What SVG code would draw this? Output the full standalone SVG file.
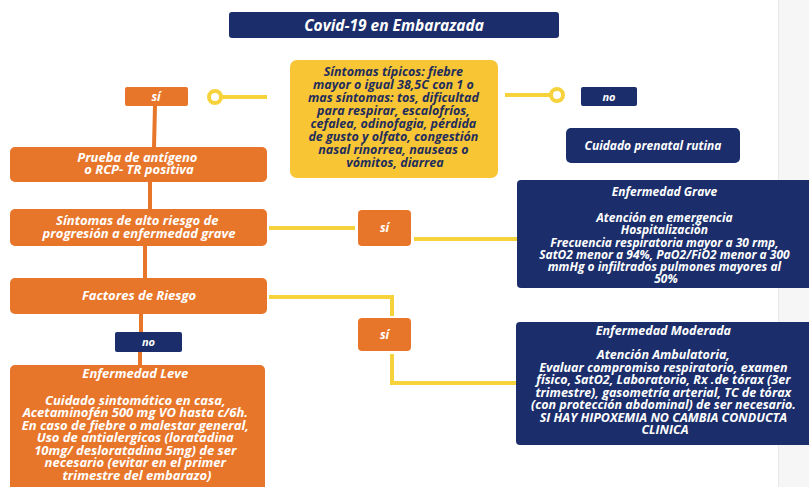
<svg xmlns="http://www.w3.org/2000/svg" width="809" height="487" viewBox="0 0 809 487">
<style>
  .t{font-family:"Open Sans",Lato,"Liberation Sans",sans-serif;font-weight:bold;font-style:italic;text-anchor:middle}
  .w{fill:#ffffff}
  .d{fill:#1f2d5c}
  .or{fill:#e8762a}
  .nv{fill:#1b2e6b}
  .yl{fill:#f8c534}
  .cy{fill:none;stroke:#f6d33c;stroke-width:4}
  .co{fill:none;stroke:#e8762a;stroke-width:4}
</style>
<rect x="0" y="0" width="809" height="487" fill="#ffffff"/>
<rect x="779" y="0" width="30" height="487" fill="#f6f6f6"/>
<line x1="778.5" y1="0" x2="778.5" y2="487" stroke="#e8e8e8" stroke-width="1"/>

<g id="connectors">
  <line class="co" x1="155" y1="106" x2="154" y2="147"/>
  <line class="co" x1="150" y1="182" x2="150" y2="209"/>
  <line class="co" x1="145" y1="246" x2="145" y2="278"/>
  <line class="co" x1="141" y1="314" x2="141" y2="332"/>
  <line class="co" x1="140" y1="352" x2="140" y2="365"/>
  <line class="cy" x1="221" y1="97" x2="267" y2="97"/>
  <circle cx="215" cy="97" r="6" fill="#ffffff" stroke="#f6d33c" stroke-width="4"/>
  <line class="cy" x1="505" y1="95" x2="551" y2="95"/>
  <circle cx="557" cy="95" r="6" fill="#ffffff" stroke="#f6d33c" stroke-width="4"/>
  <line class="cy" x1="269" y1="228" x2="355" y2="228"/>
  <line class="cy" x1="414" y1="239" x2="517" y2="239"/>
  <polyline class="cy" points="269,297 392,297 392,316"/>
  <polyline class="cy" points="392,354 392,383 517,383"/>
</g>

<g id="title">
  <rect class="nv" x="229" y="12" width="330" height="26" rx="3"/>
  <text class="t w" x="394" y="30.5" font-size="15.5">Covid-19 en Embarazada</text>
</g>

<g id="sintomas-tipicos">
  <rect class="yl" x="290" y="60" width="208" height="118" rx="7"/>
  <text class="t d" font-size="12.5">
    <tspan x="395" y="76">Síntomas típicos: fiebre</tspan>
    <tspan x="395" y="89">mayor o igual 38,5C con 1 o</tspan>
    <tspan x="395" y="102">mas síntomas: tos, dificultad</tspan>
    <tspan x="395" y="115">para respirar, escalofríos,</tspan>
    <tspan x="395" y="128">cefalea, odinofagia, pérdida</tspan>
    <tspan x="395" y="141">de gusto y olfato, congestión</tspan>
    <tspan x="395" y="154">nasal rinorrea, nauseas o</tspan>
    <tspan x="395" y="167">vómitos, diarrea</tspan>
  </text>
</g>

<g id="si-1">
  <rect class="or" x="125" y="87" width="63" height="19" rx="2"/>
  <text class="t w" x="156" y="101" font-size="12">sí</text>
</g>

<g id="no-1">
  <rect class="nv" x="581" y="87" width="56" height="19" rx="2"/>
  <text class="t w" x="609" y="100.5" font-size="11">no</text>
</g>

<g id="cuidado-prenatal">
  <rect class="nv" x="566" y="128" width="174" height="35" rx="5"/>
  <text class="t w" x="653" y="149.5" font-size="12">Cuidado prenatal rutina</text>
</g>

<g id="prueba">
  <rect class="or" x="10" y="147" width="257" height="35" rx="5"/>
  <text class="t w" font-size="13">
    <tspan x="139" y="161.5">Prueba de antígeno</tspan>
    <tspan x="139" y="174">o RCP- TR positiva</tspan>
  </text>
</g>

<g id="alto-riesgo">
  <rect class="or" x="10" y="209" width="257" height="37" rx="5"/>
  <text class="t w" font-size="13">
    <tspan x="139" y="224.5">Síntomas de alto riesgo de</tspan>
    <tspan x="139" y="237.5">progresión a enfermedad grave</tspan>
  </text>
</g>

<g id="si-2">
  <rect class="or" x="358" y="210" width="53" height="36" rx="4"/>
  <text class="t w" x="384.5" y="232" font-size="12">sí</text>
</g>

<g id="grave">
  <rect class="nv" x="517" y="180" width="295" height="108" rx="4"/>
  <text class="t w" font-size="12">
    <tspan x="666" y="196">Enfermedad Grave</tspan>
    <tspan x="666" y="222">Atención en emergencia</tspan>
    <tspan x="666" y="234">Hospitalización</tspan>
    <tspan x="666" y="246.5">Frecuencia respiratoria mayor a 30 rmp,</tspan>
    <tspan x="666" y="259">SatO2 menor a 94%, PaO2/FiO2 menor a 300</tspan>
    <tspan x="666" y="271">mmHg o infiltrados pulmones mayores al</tspan>
    <tspan x="666" y="282.5">50%</tspan>
  </text>
</g>

<g id="factores">
  <rect class="or" x="10" y="278" width="257" height="36" rx="5"/>
  <text class="t w" x="139" y="300" font-size="13">Factores de Riesgo</text>
</g>

<g id="si-3">
  <rect class="or" x="358" y="318" width="53" height="33" rx="4"/>
  <text class="t w" x="384.5" y="338.5" font-size="12">sí</text>
</g>

<g id="moderada">
  <rect class="nv" x="516" y="322" width="296" height="123" rx="4"/>
  <text class="t w" font-size="12.5">
    <tspan x="665" y="334.5">Enfermedad Moderada</tspan>
    <tspan x="665" y="359">Atención Ambulatoria,</tspan>
    <tspan x="665" y="371.5">Evaluar compromiso respiratorio, examen</tspan>
    <tspan x="665" y="384">físico, SatO2, Laboratorio, Rx .de tórax (3er</tspan>
    <tspan x="665" y="396.5">trimestre), gasometría arterial, TC de tórax</tspan>
    <tspan x="665" y="409">(con protección abdominal) de ser necesario.</tspan>
    <tspan x="665" y="421.5">SI HAY HIPOXEMIA NO CAMBIA CONDUCTA</tspan>
    <tspan x="665" y="434">CLINICA</tspan>
  </text>
</g>

<g id="no-2">
  <rect class="nv" x="115" y="332" width="67" height="20" rx="2"/>
  <text class="t w" x="148.5" y="346" font-size="11">no</text>
</g>

<g id="leve">
  <rect class="or" x="10" y="365" width="255" height="130" rx="5"/>
  <text class="t w" font-size="13">
    <tspan x="137" y="378">Enfermedad Leve</tspan>
    <tspan x="137" y="404.5">Cuidado sintomático en casa,</tspan>
    <tspan x="137" y="417">Acetaminofén 500 mg VO hasta c/6h.</tspan>
    <tspan x="137" y="429.5">En caso de fiebre o malestar general,</tspan>
    <tspan x="137" y="442">Uso de antialergicos (loratadina</tspan>
    <tspan x="137" y="454.5">10mg/ desloratadina 5mg) de ser</tspan>
    <tspan x="137" y="467">necesario (evitar en el primer</tspan>
    <tspan x="137" y="479.5">trimestre del embarazo)</tspan>
  </text>
</g>
</svg>
